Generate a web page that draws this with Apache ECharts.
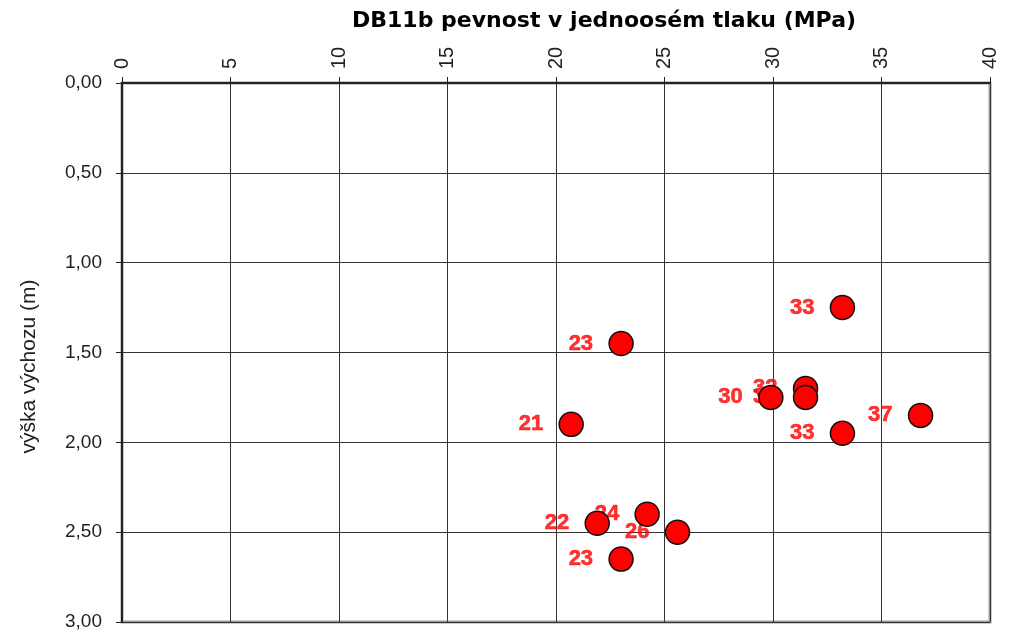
<!DOCTYPE html>
<html>
<head>
<meta charset="utf-8">
<script src="https://cdn.jsdelivr.net/npm/echarts@6/dist/echarts.min.js"></script>
<style>
  html, body { margin: 0; padding: 0; background: #fff; }
  #main { width: 1014px; height: 634px; }
</style>
</head>
<body>
<div id="main"></div>
<script>
// pevnost (MPa) a výška (m) jednotlivých měření
var pevnost = [33.2, 23.0, 31.5, 29.9, 31.5, 20.7, 36.8, 33.2, 24.2, 21.9, 25.6, 23.0];
var vyska   = [1.25, 1.45, 1.70, 1.75, 1.75, 1.90, 1.85, 1.95, 2.40, 2.45, 2.50, 2.65];
var popisky = ['33', '23', '32', '30', '32', '21', '37', '33', '24', '22', '26', '23'];

var data = [];
for (var i = 0; i < pevnost.length; i++) {
    data.push({ value: [pevnost[i], vyska[i]], label: { formatter: popisky[i] } });
}

var font = 'Liberation Sans, Arial, sans-serif';

var option = {
    backgroundColor: '#fff',
    animation: false,
    title: {
        text: 'DB11b pevnost v jednoosém tlaku (MPa)',
        left: 352,
        top: 10,
        padding: 0,
        textStyle: { fontFamily: 'DejaVu Sans, sans-serif', fontSize: 22, fontWeight: 'bold', color: '#000' }
    },
    grid: {
        left: 122, top: 83, right: 24, bottom: 12,
        show: true,
        borderColor: '#999',
        borderWidth: 3
    },
    xAxis: {
        type: 'value',
        position: 'top',
        min: 0, max: 40, interval: 5,
        axisLine: { lineStyle: { color: '#222', width: 2 } },
        axisTick: { show: true, length: 6, lineStyle: { color: '#222' } },
        axisLabel: { rotate: 90, margin: 14, fontFamily: font, fontSize: 20, color: '#222' },
        splitLine: { lineStyle: { color: '#333', width: 1 } }
    },
    yAxis: {
        type: 'value',
        inverse: true,
        min: 0, max: 3, interval: 0.5,
        name: 'výška výchozu (m)',
        nameLocation: 'middle',
        nameGap: 82,
        nameTextStyle: { fontFamily: font, fontSize: 21, color: '#222', padding: [0, 28, 0, 0] },
        axisLine: { lineStyle: { color: '#222', width: 2 } },
        axisTick: { show: true, length: 6, lineStyle: { color: '#222' } },
        axisLabel: {
            margin: 20, fontFamily: font, fontSize: 19, color: '#222',
            formatter: function (v) { return v.toFixed(2).replace('.', ','); }
        },
        splitLine: { lineStyle: { color: '#333', width: 1 } }
    },
    series: [
        {
            // popisky pod značkami
            type: 'scatter',
            z: 1,
            symbolSize: 24,
            itemStyle: { color: 'rgba(0,0,0,0)' },
            label: {
                show: true,
                position: 'left',
                distance: 16,
                fontFamily: font,
                fontSize: 22,
                fontWeight: 'bold',
                color: '#ff0000',
                textBorderColor: '#ff0000',
                textBorderWidth: 0.6
            },
            data: data
        },
        {
            type: 'scatter',
            z: 2,
            symbolSize: 24,
            itemStyle: { color: '#ff0000', borderColor: '#111', borderWidth: 1.5, opacity: 1 },
            data: pevnost.map(function (p, i) { return [p, vyska[i]]; })
        }
    ]
};

var myChart = echarts.init(document.getElementById('main'));
myChart.setOption(option);
</script>
</body>
</html>
